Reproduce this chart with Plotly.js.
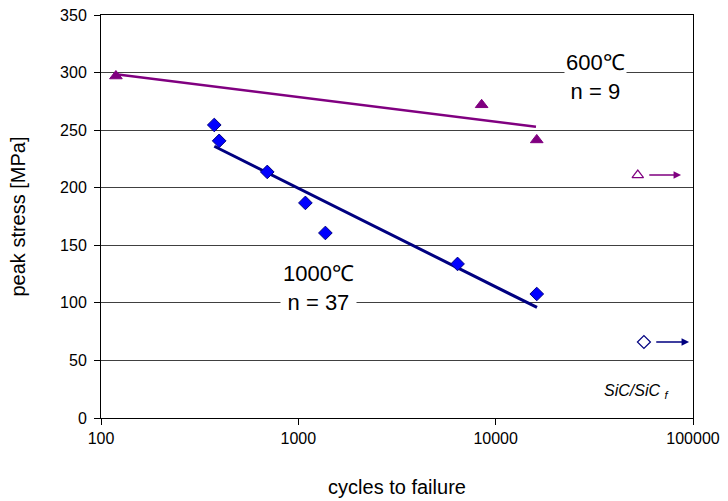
<!DOCTYPE html>
<html>
<head>
<meta charset="utf-8">
<script src="https://cdn.plot.ly/plotly-3.0.1.min.js"></script>
<style>body{margin:0;background:#fff}#chart{width:728px;height:501px}</style>
</head>
<body>
<div id="chart"></div>
<script>
// 600 °C data (cycles, MPa)
const cycles600 = [119, 8490, 16150];
const stress600 = [297, 272, 241.5];
const trendX600 = [119, 16000];
const trendY600 = [298.5, 253];
const runout600X = [52500];
const runout600Y = [211];
const arrow600X = [59000, 87000];

// 1000 °C data
const cycles1000 = [375, 397, 696, 1086, 1371, 6410, 16150];
const stress1000 = [254.5, 240.7, 213.7, 186.8, 160.7, 133.8, 107.7];
const trendX1000 = [375, 16200];
const trendY1000 = [236, 96];
const runout1000X = [56400];
const runout1000Y = [66];
const arrow1000X = [64000, 95500];

const xTicks = [100, 1000, 10000, 100000];
const xTickText = ['100', '1000', '10000', '100000'];
const yTicks = [0, 50, 100, 150, 200, 250, 300, 350];

const purple = '#800080';
const blue = '#0000FF';
const navy = '#000080';

const traces = [
  {x: trendX600, y: trendY600, mode: 'lines', line: {color: purple, width: 2.5}, hoverinfo: 'skip'},
  {x: trendX1000, y: trendY1000, mode: 'lines', line: {color: navy, width: 3}, hoverinfo: 'skip'},
  {x: cycles600, y: stress600, mode: 'markers',
   marker: {symbol: 'triangle-up', size: 11, color: purple, line: {color: purple, width: 1}}},
  {x: cycles1000, y: stress1000, mode: 'markers',
   marker: {symbol: 'diamond', size: 10.5, color: blue, line: {color: navy, width: 1}}},
  {x: runout600X, y: runout600Y, mode: 'markers',
   marker: {symbol: 'triangle-up-open', size: 10, color: purple, line: {color: purple, width: 1.2}}},
  {x: runout1000X, y: runout1000Y, mode: 'markers',
   marker: {symbol: 'diamond-open', size: 10, color: navy, line: {color: navy, width: 1.2}}}
];

const lg = v => Math.log10(v);

const layout = {
  width: 728, height: 501,
  margin: {l: 101, r: 35, t: 15, b: 83},
  paper_bgcolor: '#fff', plot_bgcolor: '#fff',
  showlegend: false,
  font: {family: 'Liberation Sans, Arial, sans-serif', color: '#000', size: 16},
  xaxis: {
    type: 'log', range: [2, 5],
    tickvals: xTicks, ticktext: xTickText,
    ticks: 'outside', ticklen: 6, tickcolor: '#000',
    showgrid: false, zeroline: false,
    showline: true, linecolor: '#000', linewidth: 1, mirror: true,
    tickfont: {size: 16},
    title: {text: 'cycles to failure', font: {size: 20}, standoff: 33}
  },
  yaxis: {
    range: [0, 350], tickvals: yTicks,
    ticks: 'outside', ticklen: 6, tickcolor: '#000',
    ticklabelstandoff: 4,
    showgrid: true, gridcolor: '#404040', gridwidth: 1,
    zeroline: false,
    showline: true, linecolor: '#000', linewidth: 1, mirror: true,
    tickfont: {size: 16},
    title: {text: 'peak stress [MPa]', font: {size: 20}, standoff: 29}
  },
  annotations: [
    {x: lg(32000), y: 296, xref: 'x', yref: 'y', text: '600℃<br>n = 9', showarrow: false,
     font: {size: 22}, bgcolor: '#fff', borderpad: 1, align: 'center'},
    {x: lg(1263), y: 113, xref: 'x', yref: 'y', text: '1000℃<br>n = 37', showarrow: false,
     font: {size: 22}, bgcolor: '#fff', borderpad: 2, align: 'center'},
    {x: lg(arrow600X[1]), y: runout600Y[0], ax: lg(arrow600X[0]), ay: runout600Y[0],
     xref: 'x', yref: 'y', axref: 'x', ayref: 'y', text: '', showarrow: true,
     arrowhead: 2, arrowsize: 1, arrowwidth: 1.5, arrowcolor: purple},
    {x: lg(arrow1000X[1]), y: runout1000Y[0], ax: lg(arrow1000X[0]), ay: runout1000Y[0],
     xref: 'x', yref: 'y', axref: 'x', ayref: 'y', text: '', showarrow: true,
     arrowhead: 2, arrowsize: 1, arrowwidth: 1.5, arrowcolor: navy},
    {x: lg(51900), y: 23, xref: 'x', yref: 'y', text: '<i>SiC/SiC</i> <sub><i>f</i></sub>', showarrow: false,
     font: {size: 16}}
  ]
};

Plotly.newPlot('chart', traces, layout, {displayModeBar: false, staticPlot: true});
</script>
</body>
</html>
